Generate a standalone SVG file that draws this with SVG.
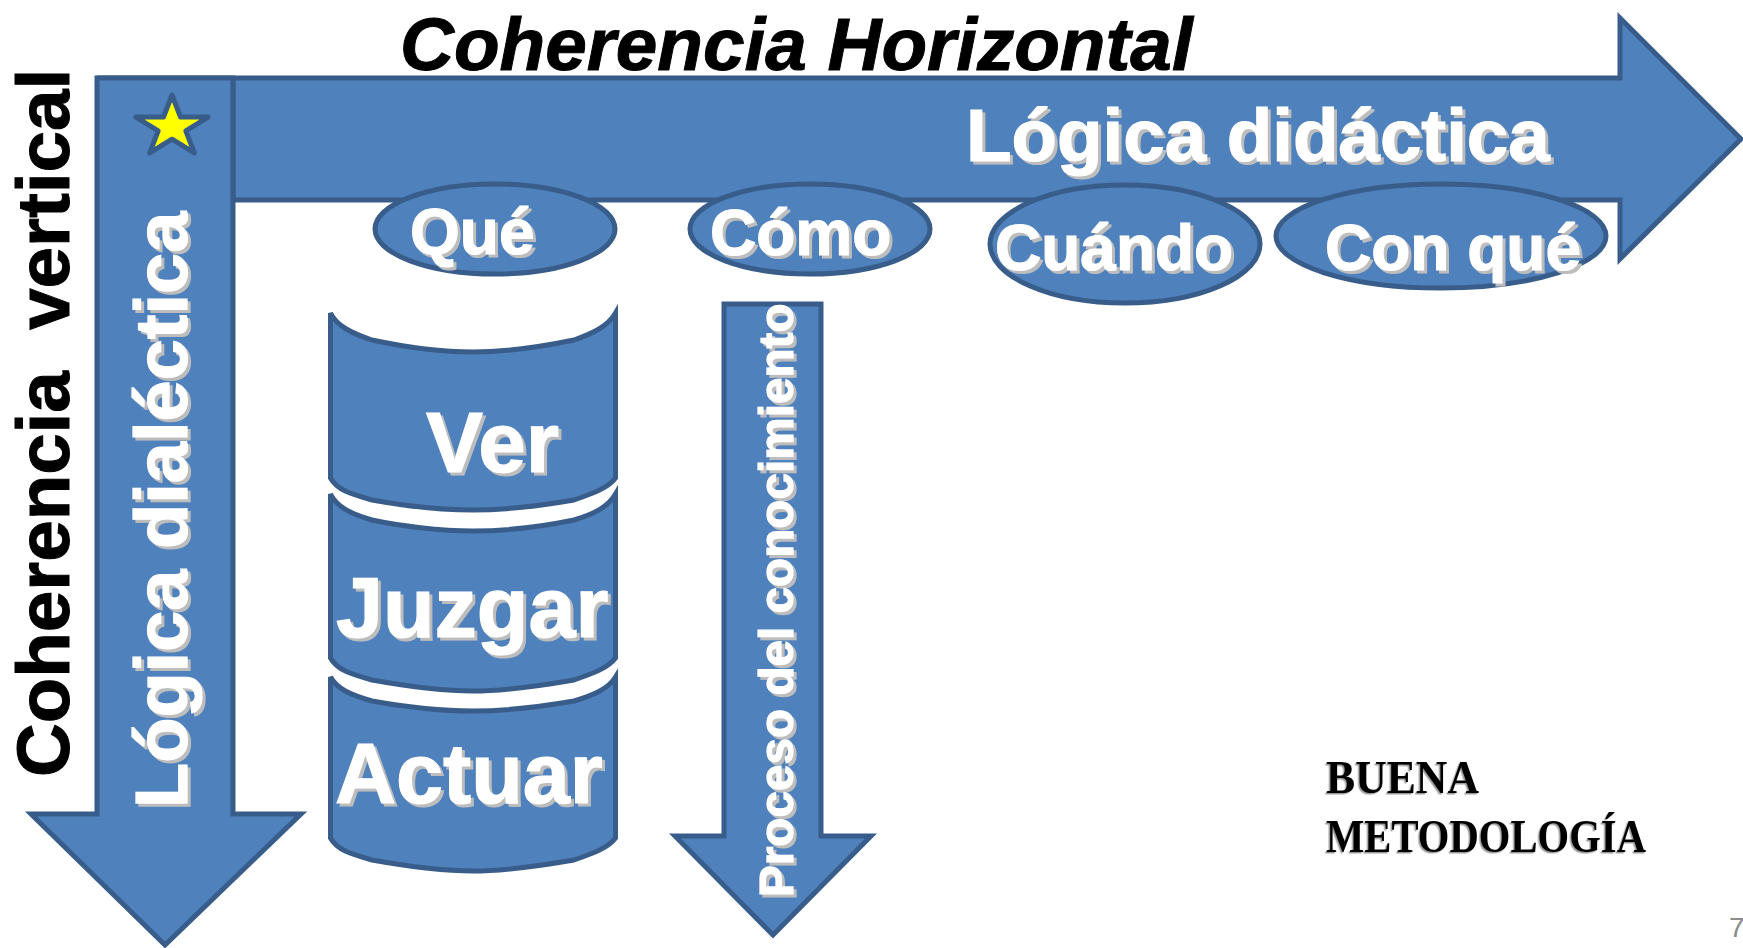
<svg xmlns="http://www.w3.org/2000/svg" width="1743" height="948" viewBox="0 0 1743 948">
<defs>
<style>
.s{fill:#4f81bd;stroke:#385d8a;stroke-width:5}
.w{font-family:"Liberation Sans",Arial,sans-serif;font-weight:bold;fill:#fff;stroke:#fff;stroke-width:1.2}
.k{font-family:"Liberation Sans",Arial,sans-serif;font-weight:bold;fill:#000;stroke:#000;stroke-width:1}
.b{font-family:"Liberation Serif","Times New Roman",serif;font-weight:bold;font-size:46px;fill:#000}
</style>
<filter id="sh" x="-10%" y="-10%" width="120%" height="120%" color-interpolation-filters="sRGB">
<feDropShadow dx="3" dy="3" stdDeviation="0.4" flood-color="#bdbdbd"/>
</filter>
<filter id="shb" x="-5%" y="-10%" width="110%" height="120%" color-interpolation-filters="sRGB">
<feDropShadow dx="-1.5" dy="1.5" stdDeviation="0.3" flood-color="#9a9a9a"/>
</filter>
</defs>
<rect width="1743" height="948" fill="#fff"/>
<g id="connectors">
<g id="arrow-horizontal">
<path class="s" d="M97,78H1620V18L1741,139L1620,259V200H233V78Z"/>
<g filter="url(#sh)"><text class="w" x="966" y="161" font-size="74.5">Lógica didáctica</text></g>
</g>
<g id="arrow-vertical">
<path class="s" d="M97,78H233V814H301L165,945L31,814H97Z"/>
<g filter="url(#sh)"><text class="w" transform="translate(187,808) rotate(-90)" font-size="74">Lógica dialéctica</text></g>
</g>
<g id="arrow-proceso">
<path class="s" d="M724,304H821V836H871L773,935L675,836H724Z"/>
<g filter="url(#sh)"><text class="w" transform="translate(793,897) rotate(-90)" font-size="47.7">Proceso del conocimiento</text></g>
</g>
</g>
<g id="star"><polygon points="172,95 180.5,117.1 208.1,117.1 185.8,130.8 194.3,152.9 172,139.2 149.7,152.9 158.2,130.8 135.9,117.1 163.5,117.1" fill="#ff0" stroke="#385d8a" stroke-width="5" stroke-linejoin="round"/></g>
<g id="que"><ellipse class="s" cx="495" cy="229" rx="120" ry="45"/><g filter="url(#sh)"><text class="w" x="410" y="254" font-size="64">Qué</text></g></g>
<g id="como"><ellipse class="s" cx="810" cy="229" rx="120" ry="45"/><g filter="url(#sh)"><text class="w" x="710" y="255" font-size="64">Cómo</text></g></g>
<g id="cuando"><ellipse class="s" cx="1125" cy="244" rx="135" ry="59"/><g filter="url(#sh)"><text class="w" x="995" y="270" font-size="64">Cuándo</text></g></g>
<g id="conque"><ellipse class="s" cx="1441" cy="236" rx="165" ry="52"/><g filter="url(#sh)"><text class="w" x="1325" y="270" font-size="64">Con qué</text></g></g>
<g id="ver"><path class="s" d="M330.500,313V478C337,490 351,494 372,500C400,505 440,510 473,510C505,510 545,505 574,500C594,493 608,488 615.500,478V313C608,326 594,333 574,340C545,346 505,352 473,352C440,352 400,346 372,340C351,333 337,326 330.500,313Z"/><g filter="url(#sh)"><text class="w" x="426" y="472" font-size="85.500">Ver</text></g></g>
<g id="juzgar"><path class="s" d="M330.500,494V658C337,670 351,674 372,680C400,685 440,691 473,691C505,691 545,685 574,680C594,673 608,668 615.500,658V494C608,507 594,514 574,520C545,526 505,531 473,531C440,531 400,526 372,520C351,514 337,507 330.500,494Z"/><g filter="url(#sh)"><text class="w" x="336" y="637" font-size="84.500">Juzgar</text></g></g>
<g id="actuar"><path class="s" d="M330.500,677V838C337,850 351,854 372,860C400,865 440,871 473,871C505,871 545,865 574,860C594,853 608,848 615.500,838V677C608,689 594,695 574,701C545,706 505,711 473,711C440,711 400,706 372,701C351,695 337,689 330.500,677Z"/><g filter="url(#sh)"><text class="w" x="335" y="803" font-size="84.500">Actuar</text></g></g>
<g id="titulo-horizontal"><text class="k" x="400" y="70" font-size="74.7" font-style="italic">Coherencia Horizontal</text></g>
<g id="titulo-vertical"><text class="k" transform="translate(69,777) rotate(-90)" font-size="74.500" xml:space="preserve">Coherencia  vertical</text></g>
<g id="buena-metodologia" filter="url(#shb)">
<text class="b" x="1326" y="793" textLength="153" lengthAdjust="spacingAndGlyphs">BUENA</text>
<text class="b" x="1326" y="852" textLength="320" lengthAdjust="spacingAndGlyphs">METODOLOGÍA</text>
</g>
<g id="pagina"><text x="1729" y="937" font-family="'Liberation Sans',Arial,sans-serif" font-size="28" fill="#8b8b8b">7</text></g>
</svg>
